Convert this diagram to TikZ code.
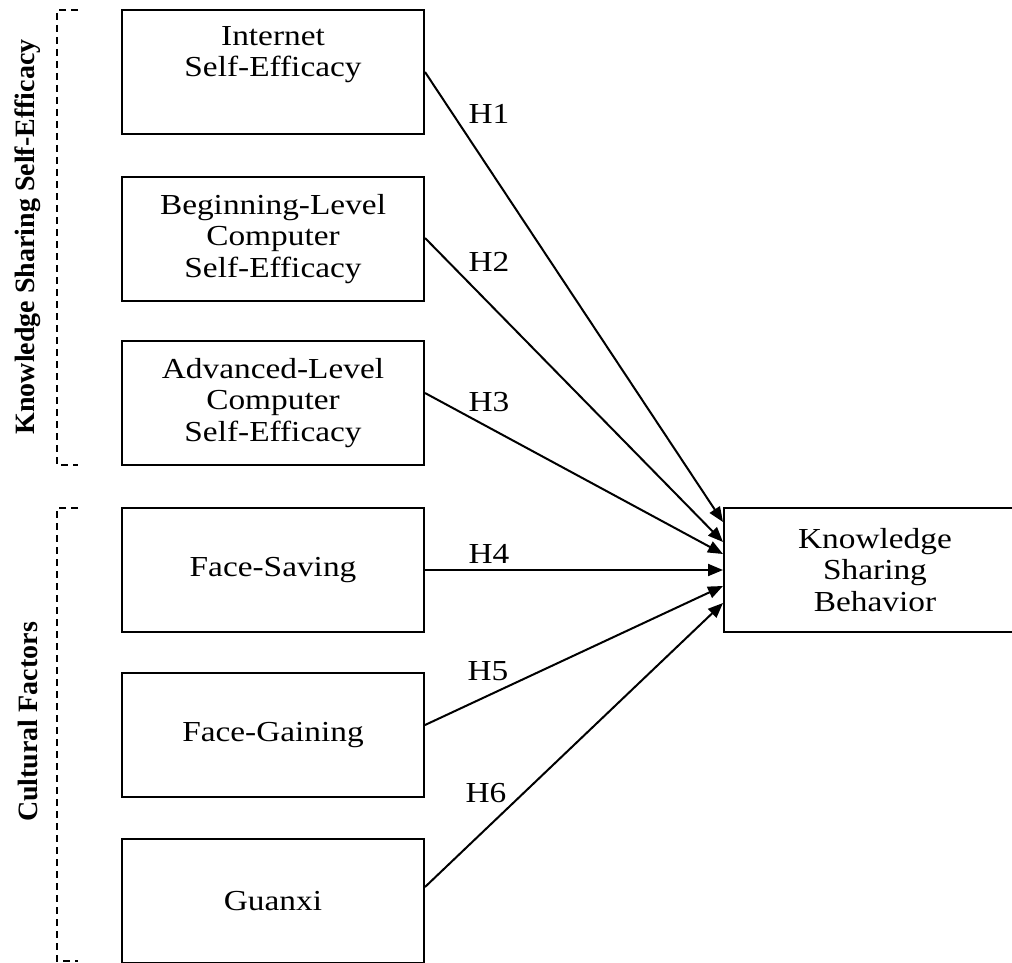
\documentclass[tikz,border=0pt]{standalone}
\usepackage{fontspec}
\setmainfont{Liberation Serif}[FakeStretch=1.15]
\newfontfamily\sidefont{Liberation Serif}
\usetikzlibrary{arrows.meta,calc}
\begin{document}
\begin{tikzpicture}[x=1pt,y=-1pt,
  box/.style={draw,line width=2pt,minimum width=302pt,minimum height=124pt,
    inner sep=0pt,align=center,font=\fontsize{29}{31.5}\selectfont},
  hyp/.style={line width=2pt,-{Triangle[length=15pt,width=12pt]}},
  hlab/.style={anchor=base,inner sep=0pt,font=\fontsize{29}{31}\selectfont},
  grp/.style={dashed,dash pattern=on 7pt off 5pt,line width=1.5pt},
  side/.style={rotate=90,inner sep=0pt,font=\sidefont\bfseries\fontsize{28}{32}\selectfont}]
\useasboundingbox (0,0) rectangle (1012,963);
\clip (0,0) rectangle (1012,963);
\node[box] (b1) at (273,72) {Internet\\Self-Efficacy\\\strut};
\node[box] (b2) at (273,239) {Beginning-Level\\Computer\\Self-Efficacy};
\node[box] (b3) at (273,403) {Advanced-Level\\Computer\\Self-Efficacy};
\node[box] (b4) at (273,570) {Face-Saving};
\node[box] (b5) at (273,735) {Face-Gaining};
\node[box] (b6) at (273,901) {Guanxi};
\node[box] (k) at (875,570) {Knowledge\\Sharing\\Behavior};
\draw[hyp] (b1.east) -- ($(k.west)+(0,-48)$);
\draw[hyp] ($(b2.east)+(0,-1)$) -- ($(k.west)+(0,-28)$);
\draw[hyp] ($(b3.east)+(0,-10)$) -- ($(k.west)+(0,-16)$);
\draw[hyp] (b4.east) -- (k.west);
\draw[hyp] ($(b5.east)+(0,-10)$) -- ($(k.west)+(0,16)$);
\draw[hyp] ($(b6.east)+(0,-14)$) -- ($(k.west)+(0,33)$);
\node[hlab] (h1) at (489,124) {H1};
\node[hlab] (h2) at (489,271) {H2};
\node[hlab] (h3) at (489,411) {H3};
\node[hlab] (h4) at (489,563) {H4};
\node[hlab] (h5) at (488,680) {H5};
\node[hlab] (h6) at (486,802) {H6};
\coordinate (g1a) at (78,10);
\coordinate (g1b) at (78,465);
\coordinate (g2a) at (78,508);
\coordinate (g2b) at (78,961);
\draw[grp] (g1a) -- (57,10) -- (57,465) -- (g1b);
\draw[grp] (g2a) -- (57,508) -- (57,961) -- (g2b);
\node[side] (s1) at (28,237) {Knowledge Sharing Self-Efficacy};
\node[side] (s2) at (28,722) {Cultural Factors};
\end{tikzpicture}
\end{document}
